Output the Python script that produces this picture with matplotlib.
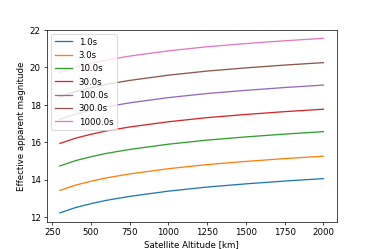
import matplotlib
matplotlib.use("Agg")
import matplotlib.pyplot as plt

altitude = [300, 400, 500, 600, 750, 1000, 1250, 1500, 1750, 2000]

mag_1s = [12.22, 12.50, 12.71, 12.89, 13.10, 13.38, 13.60, 13.77, 13.92, 14.05]
mag_3s = [13.42, 13.70, 13.91, 14.09, 14.30, 14.58, 14.80, 14.97, 15.12, 15.25]
mag_10s = [14.73, 15.01, 15.22, 15.40, 15.61, 15.89, 16.11, 16.28, 16.43, 16.56]
mag_30s = [15.93, 16.21, 16.42, 16.60, 16.81, 17.09, 17.31, 17.48, 17.63, 17.76]
mag_100s = [17.22, 17.50, 17.71, 17.89, 18.10, 18.38, 18.60, 18.77, 18.92, 19.05]
mag_300s = [18.42, 18.70, 18.91, 19.09, 19.30, 19.58, 19.80, 19.97, 20.12, 20.25]
mag_1000s = [19.72, 20.00, 20.21, 20.39, 20.60, 20.88, 21.10, 21.27, 21.42, 21.55]

labels = ['1.0s', '3.0s', '10.0s', '30.0s', '100.0s', '300.0s', '1000.0s']
series = [mag_1s, mag_3s, mag_10s, mag_30s, mag_100s, mag_300s, mag_1000s]

fig = plt.figure(figsize=(6, 4), dpi=62.33)
ax = fig.add_subplot(111)
for lab, mags in zip(labels, series):
    ax.plot(altitude, mags, label=lab)

ax.set_xlabel('Satellite Altitude [km]')
ax.set_ylabel('Effective apparent magnitude')
ax.legend(loc='upper left')
fig.savefig('out.png', dpi=62.33)
